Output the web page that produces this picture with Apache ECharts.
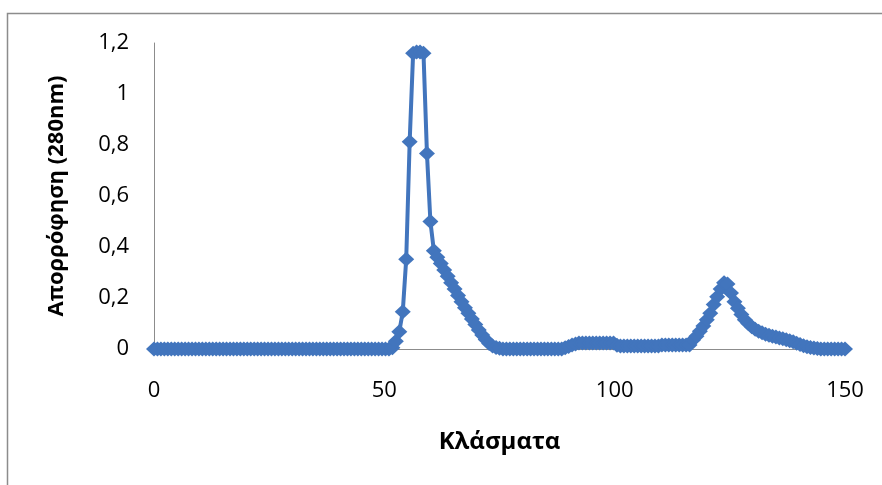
<!DOCTYPE html>
<html>
<head>
<meta charset="utf-8">
<script src="https://cdn.jsdelivr.net/npm/echarts@6/dist/echarts.min.js"></script>
<style>
  html, body { margin: 0; padding: 0; background: #ffffff; }
  #chart { width: 882px; height: 485px; }
</style>
</head>
<body>
<div id="chart"></div>
<script>
// Fraction positions (x)
var fractions = [
  0, 0.75, 1.5, 2.25, 3, 3.75, 4.5, 5.25, 6, 6.75, 7.5, 8.25,
  9, 9.75, 10.5, 11.25, 12, 12.75, 13.5, 14.25, 15, 15.75, 16.5, 17.25,
  18, 18.75, 19.5, 20.25, 21, 21.75, 22.5, 23.25, 24, 24.75, 25.5, 26.25,
  27, 27.75, 28.5, 29.25, 30, 30.75, 31.5, 32.25, 33, 33.75, 34.5, 35.25,
  36, 36.75, 37.5, 38.25, 39, 39.75, 40.5, 41.25, 42, 42.75, 43.5, 44.25,
  45, 45.75, 46.5, 47.25, 48, 48.75, 49.5, 50.25, 51, 51.75, 52.5, 53.25,
  54, 54.75, 55.5, 56.25, 57, 57.75, 58.5, 59.25, 60, 60.75, 61.5, 62.25,
  63, 63.75, 64.5, 65.25, 66, 66.75, 67.5, 68.25, 69, 69.75, 70.5, 71.25,
  72, 72.75, 73.5, 74.25, 75, 75.75, 76.5, 77.25, 78, 78.75, 79.5, 80.25,
  81, 81.75, 82.5, 83.25, 84, 84.75, 85.5, 86.25, 87, 87.75, 88.5, 89.25,
  90, 90.75, 91.5, 92.25, 93, 93.75, 94.5, 95.25, 96, 96.75, 97.5, 98.25,
  99, 99.75, 100.5, 101.25, 102, 102.75, 103.5, 104.25, 105, 105.75, 106.5, 107.25,
  108, 108.75, 109.5, 110.25, 111, 111.75, 112.5, 113.25, 114, 114.75, 115.5, 116.25,
  117, 117.75, 118.5, 119.25, 120, 120.75, 121.5, 122.25, 123, 123.75, 124.5, 125.25,
  126, 126.75, 127.5, 128.25, 129, 129.75, 130.5, 131.25, 132, 132.75, 133.5, 134.25,
  135, 135.75, 136.5, 137.25, 138, 138.75, 139.5, 140.25, 141, 141.75, 142.5, 143.25,
  144, 144.75, 145.5, 146.25, 147, 147.75, 148.5, 149.25, 150
];

// Absorbance at 280 nm (y), one per fraction
var absorbance = [
  0, 0, 0, 0, 0, 0, 0, 0, 0, 0, 0, 0,
  0, 0, 0, 0, 0, 0, 0, 0, 0, 0, 0, 0,
  0, 0, 0, 0, 0, 0, 0, 0, 0, 0, 0, 0,
  0, 0, 0, 0, 0, 0, 0, 0, 0, 0, 0, 0,
  0, 0, 0, 0, 0, 0, 0, 0, 0, 0, 0, 0,
  0, 0, 0, 0, 0, 0, 0, 0, 0, 0.005, 0.03, 0.068,
  0.146, 0.352, 0.813, 1.16, 1.165, 1.165, 1.16, 0.767, 0.5, 0.385, 0.36, 0.335,
  0.31, 0.285, 0.26, 0.235, 0.21, 0.185, 0.162, 0.14, 0.118, 0.096, 0.075, 0.055,
  0.037, 0.022, 0.012, 0.006, 0.003, 0, 0, 0, 0, 0, 0, 0,
  0, 0, 0, 0, 0, 0, 0, 0, 0, 0, 0, 0.005,
  0.01, 0.016, 0.02, 0.024, 0.024, 0.024, 0.024, 0.024, 0.024, 0.024, 0.024, 0.024,
  0.024, 0.024, 0.015, 0.012, 0.012, 0.012, 0.012, 0.012, 0.012, 0.012, 0.012, 0.012,
  0.012, 0.012, 0.012, 0.016, 0.016, 0.016, 0.016, 0.016, 0.016, 0.016, 0.016, 0.016,
  0.035, 0.05, 0.07, 0.09, 0.115, 0.14, 0.175, 0.205, 0.235, 0.26, 0.255, 0.22,
  0.185, 0.16, 0.135, 0.115, 0.1, 0.087, 0.077, 0.07, 0.064, 0.058, 0.054, 0.05,
  0.047, 0.043, 0.04, 0.036, 0.032, 0.028, 0.023, 0.018, 0.013, 0.009, 0.006, 0.004,
  0.002, 0, 0, 0, 0, 0, 0, 0, 0
];

var xTicks = [0, 50, 100, 150];
var yTicks = [0, 0.2, 0.4, 0.6, 0.8, 1, 1.2];
var xTitle = 'Κλάσματα';
var yTitle = 'Απορρόφηση (280nm)';

var points = fractions.map(function (x, i) { return [x, absorbance[i]]; });

var chart = echarts.init(document.getElementById('chart'), null, { renderer: 'canvas' });
var FONT = '"Open Sans", "DejaVu Sans", sans-serif';
chart.setOption({
  animation: false,
  backgroundColor: '#ffffff',
  graphic: [{
    type: 'rect',
    shape: { x: 7.5, y: 13.5, width: 1000, height: 1000 },
    style: { fill: 'none', stroke: '#8c8c8c', lineWidth: 1.5 },
    silent: true
  }],
  grid: { left: 154, right: 37, top: 43, bottom: 136 },
  xAxis: {
    type: 'value',
    min: xTicks[0],
    max: xTicks[xTicks.length - 1],
    interval: xTicks[1] - xTicks[0],
    name: xTitle,
    nameLocation: 'middle',
    nameGap: 81,
    nameTextStyle: { fontFamily: FONT, fontWeight: 'bold', fontSize: 24, color: '#000' },
    axisLine: { show: true, lineStyle: { color: '#8c8c8c', width: 1 } },
    axisTick: { show: false },
    splitLine: { show: false },
    axisLabel: { margin: 31, fontFamily: FONT, fontSize: 22, color: '#000' }
  },
  yAxis: {
    type: 'value',
    min: yTicks[0],
    max: yTicks[yTicks.length - 1],
    interval: 0.2,
    name: yTitle,
    nameLocation: 'middle',
    nameGap: 86,
    nameRotate: 90,
    nameTextStyle: { fontFamily: FONT, fontWeight: 'bold', fontSize: 22, color: '#000' },
    axisLine: { show: true, lineStyle: { color: '#8c8c8c', width: 1 } },
    axisTick: { show: false },
    splitLine: { show: false },
    axisLabel: {
      margin: 25, fontFamily: FONT, fontSize: 22, color: '#000',
      formatter: function (v) { return String(Math.round(v * 10) / 10).replace('.', ','); }
    }
  },
  series: [{
    type: 'line',
    data: points,
    symbol: 'diamond',
    symbolSize: [16, 15],
    showAllSymbol: true,
    lineStyle: { color: '#4275BD', width: 4 },
    itemStyle: { color: '#4275BD' }
  }]
});
</script>
</body>
</html>
